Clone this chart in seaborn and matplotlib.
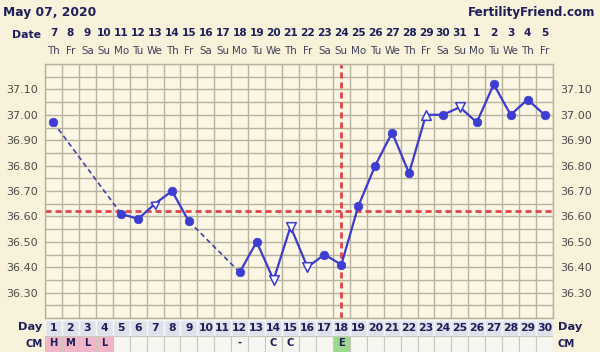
import numpy as np
import pandas as pd
import matplotlib
matplotlib.use("Agg")
import matplotlib.pyplot as plt
import matplotlib.transforms as mtransforms
import seaborn as sns

# ---------------- data ----------------
chart_date = "May 07, 2020"
site = "FertilityFriend.com"
days = list(range(1, 31))
dates = [7, 8, 9, 10, 11, 12, 13, 14, 15, 16, 17, 18, 19, 20, 21, 22, 23, 24, 25,
         26, 27, 28, 29, 30, 31, 1, 2, 3, 4, 5]
weekdays = ["Th", "Fr", "Sa", "Su", "Mo", "Tu", "We"] * 4 + ["Th", "Fr"]
temps = [36.97, None, None, None, 36.61, 36.59, 36.65, 36.70, 36.58, None, None,
         36.38, 36.50, 36.35, 36.56, 36.40, 36.45, 36.41, 36.64, 36.80, 36.93,
         36.77, 37.00, 37.00, 37.03, 36.97, 37.12, 37.00, 37.06, 37.00]
markers = ["o", "", "", "", "o", "o", "arrow", "o", "o", "", "",
           "o", "o", "v", "v", "v", "o", "o", "o", "o", "o",
           "o", "^", "o", "v", "o", "o", "o", "o", "o"]
cm = ["H", "M", "L", "L", "", "", "", "", "", "", "", "-", "", "C", "C", "", "",
      "E", "", "", "", "", "", "", "", "", "", "", "", ""]
cm_kind = ["fertile", "fertile", "fertile", "fertile"] + ["none"] * 13 + ["egg"] + ["none"] * 12
coverline = 36.62
ovulation_day = 18
y_tick_values = [36.30, 36.40, 36.50, 36.60, 36.70, 36.80, 36.90, 37.00, 37.10]
y_min, y_max = 36.20, 37.20

# ---------------- style ----------------
BG = "#F8F2DA"
PLOT_BG = "#FBF7E4"
GRID = "#B7B39E"
NAVY = "#1E1E5A"
BLUE = "#3B3BCF"
RED = "#E04646"
FONT = ["DejaVu Sans"]

sns.set_theme(style="white")
plt.rcParams["font.family"] = FONT

fig = plt.figure(figsize=(6.0, 3.52), dpi=100, facecolor=BG)
W, H = 600.0, 352.0
ax = fig.add_axes([45 / W, 1 - 318 / H, 508 / W, 254 / H])
ax.set_facecolor(PLOT_BG)

df = pd.DataFrame({"day": days, "temp": temps, "marker": markers})
df = df.dropna(subset=["temp"]).reset_index(drop=True)

# solid runs (consecutive days) and dashed gaps
seg = (df["day"].diff() != 1).cumsum()
df["seg"] = seg
sns.lineplot(data=df, x="day", y="temp", units="seg", estimator=None,
             color=BLUE, lw=1.6, ax=ax, zorder=3, legend=False)
gap_rows = []
for i in range(1, len(df)):
    if df.loc[i, "day"] - df.loc[i - 1, "day"] > 1:
        gap_rows.append({"day": df.loc[i - 1, "day"], "temp": df.loc[i - 1, "temp"], "g": i})
        gap_rows.append({"day": df.loc[i, "day"], "temp": df.loc[i, "temp"], "g": i})
gdf = pd.DataFrame(gap_rows)
sns.lineplot(data=gdf, x="day", y="temp", units="g", estimator=None,
             color="#4343A8", lw=1.2, ax=ax, zorder=3, legend=False,
             dashes=False, linestyle=(0, (3, 2)))

# markers
filled = df[df["marker"] == "o"]
sns.scatterplot(data=filled, x="day", y="temp", marker="o", s=38, color="#3D3DD2",
                edgecolor="#3D3DD2", linewidth=0.5, ax=ax, zorder=5, legend=False)
for m, mk in [("v", "v"), ("^", "^"), ("arrow", (3, 0, -55))]:
    sub = df[df["marker"] == m]
    if len(sub):
        sns.scatterplot(data=sub, x="day", y="temp", marker=mk, s=48,
                        facecolor="white", edgecolor=BLUE, linewidth=1.1,
                        ax=ax, zorder=5, legend=False)

# cover line and ovulation line
ax.axhline(coverline, color=RED, lw=2.0, linestyle=(0, (2.2, 1.4)), zorder=2)
ax.axvline(ovulation_day, color=RED, lw=2.0, linestyle=(0, (2.2, 1.4)), zorder=2)

# grid & axes
ax.set_xlim(0.5, 30.5)
ax.set_ylim(y_min, y_max)
ax.set_xticks(np.arange(0.5, 30.6, 1))
ax.set_xticklabels([])
yt = np.round(np.arange(y_min, y_max + 0.001, 0.05), 2)
ax.set_yticks(yt)
lab_set = {round(v, 2) for v in y_tick_values}
ax.set_yticklabels([f"{v:.2f}" if round(v, 2) in lab_set else "" for v in yt])
ax.grid(True, color=GRID, lw=1.0, zorder=1)
ax.set_axisbelow(True)
ax.tick_params(axis="both", length=0, labelsize=8, labelcolor="#4A4A4A")
ax.tick_params(axis="y", labelright=True, pad=5)
ax.set_xlabel("")
ax.set_ylabel("")
for s in ax.spines.values():
    s.set_color(GRID)
    s.set_linewidth(1.0)

# header
fig.text(3 / W, 1 - 12.5 / H, chart_date, ha="left", va="center", fontsize=8.8,
         fontweight="bold", color=NAVY)
fig.text(595 / W, 1 - 12.5 / H, site, ha="right", va="center", fontsize=8.6,
         fontweight="bold", color=NAVY)

# date rows
trans = mtransforms.blended_transform_factory(ax.transData, fig.transFigure)
fig.text(41 / W, 1 - 35 / H, "Date", ha="right", va="center", fontsize=7.8,
         fontweight="bold", color=NAVY)
for d, dt, wd in zip(days, dates, weekdays):
    ax.text(d, 1 - 33 / H, str(dt), transform=trans, ha="center", va="center",
            fontsize=7.6, fontweight="bold", color=NAVY, clip_on=False)
    ax.text(d, 1 - 51 / H, wd, transform=trans, ha="center", va="center",
            fontsize=7.4, color="#40405A", clip_on=False)

# bottom table: Day row and CM row
tab = fig.add_axes([45 / W, 0, 508 / W, 32 / H])
tab.set_xlim(0.5, 30.5)
tab.set_ylim(0, 2)
tab.axis("off")
cm_colors = {"fertile": "#F2B6C9", "egg": "#9CD98B", "none": "#F7F6F1"}
tab.bar(days, 1, bottom=1, width=1, color="#E1E1EC", edgecolor="#F6F6FA", linewidth=1.0)
tab.bar(days, 1, bottom=0, width=1, color=[cm_colors[k] for k in cm_kind],
        edgecolor="#C9C8BC", linewidth=0.8)
for d, c in zip(days, cm):
    tab.text(d, 1.5, str(d), ha="center", va="center", fontsize=7.8,
             fontweight="bold", color=NAVY)
    if c:
        tab.text(d, 0.55, c, ha="center", va="center", fontsize=7.2,
                 fontweight="bold", color=NAVY)

fig.text(42 / W, 1 - 327 / H, "Day", ha="right", va="center", fontsize=8.2,
         fontweight="bold", color=NAVY)
fig.text(558 / W, 1 - 327 / H, "Day", ha="left", va="center", fontsize=8.2,
         fontweight="bold", color=NAVY)
fig.text(43 / W, 1 - 344 / H, "CM", ha="right", va="center", fontsize=7.2,
         fontweight="bold", color=NAVY)
fig.text(558 / W, 1 - 344 / H, "CM", ha="left", va="center", fontsize=7.2,
         fontweight="bold", color=NAVY)

fig.savefig("out.png", dpi=100, facecolor=BG)
